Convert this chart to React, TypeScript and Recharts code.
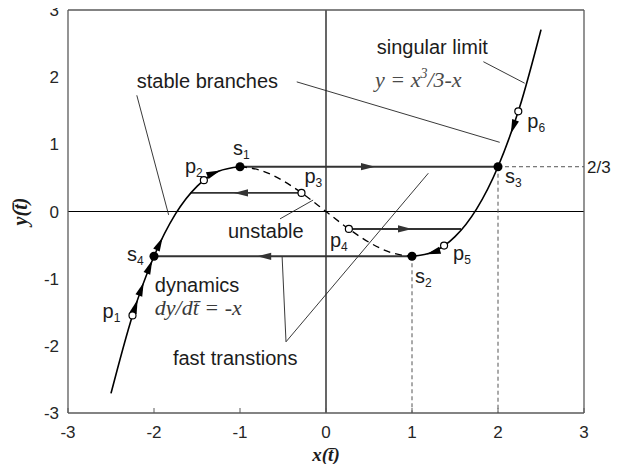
import { ComposedChart, Line, Scatter, XAxis, YAxis, ReferenceLine } from 'recharts';

const W = 624;
const H = 472;
// plot box is 516 x 403 px for 6 units each way
const KX = 516 / 6;
const KY = 403 / 6;

const ticks = [-3, -2, -1, 0, 1, 2, 3];

// singular limit y = x^3/3 - x, sampled every 0.25
const curveX = [-2.5, -2.25, -2, -1.75, -1.5, -1.25, -1, -0.75, -0.5, -0.25, 0, 0.25, 0.5, 0.75, 1, 1.25, 1.5, 1.75, 2, 2.25, 2.5];
const curveY = [-2.708, -1.547, -0.667, -0.036, 0.375, 0.599, 0.667, 0.609, 0.458, 0.245, 0, -0.245, -0.458, -0.609, -0.667, -0.599, -0.375, 0.036, 0.667, 1.547, 2.708];

// switching points s1..s4
const switchNames = ['s1', 's2', 's3', 's4'];
const switchX = [-1, 1, 2, -2];
const switchY = [2 / 3, -2 / 3, 2 / 3, -2 / 3];

// sample initial points p1..p6
const sampleNames = ['p1', 'p2', 'p3', 'p4', 'p5', 'p6'];
const sampleX = [-2.25, -1.42, -0.285, 0.266, 1.373, 2.236];
const sampleY = [-1.547, 0.466, 0.277, -0.26, -0.508, 1.491];

// fast horizontal jumps
const jumpY = [2 / 3, 0.277, -0.26, -2 / 3];
const jumpFromX = [-1, -0.285, 0.266, 1];
const jumpToX = [2, -1.575, 1.57, -2];

// arrowheads: tip position, heading along x (+1/-1) and local slope dy/dx
const arrowX = [-2.19, -2.12, -2.02, -1.9, -1.23, 2.15, 1.17, 0.57, -1.07, 1.0, -0.8];
const arrowY = [-1.311, -1.056, -0.727, -0.386, 0.61, 1.163, -0.636, 2 / 3, 0.277, -0.26, -2 / 3];
const arrowHeading = [1, 1, 1, 1, 1, -1, -1, 1, -1, 1, -1];
const arrowSlope = [3.8, 3.49, 3.08, 2.61, 0.51, 3.62, 0.37, 0, 0, 0, 0];

// annotation leader lines [x1, y1, x2, y2]
const leaders = [
  [-2.2, 1.73, -1.83, -0.05],
  [-0.34, 1.93, 2.02, 1.03],
  [1.83, 2.23, 2.31, 1.91],
  [-0.535, -0.11, -0.15, 0.17],
  [-0.51, -0.677, -0.465, -1.94],
  [-0.465, -1.94, 1.19, 0.57],
];

// annotation text anchors (left edge, baseline)
const noteIds = ['stable', 'singular', 'formula', 'unstable', 'dynamics', 'ode', 'fast'];
const noteX = [-2.2, 0.59, 0.57, -1.14, -1.99, -1.99, -1.78];
const noteY = [1.84, 2.34, 1.85, -0.395, -1.2, -1.54, -2.285];
const noteText = ['stable branches', 'singular limit', '', 'unstable', 'dynamics', '', 'fast transtions'];

const curve = curveX.map((x, i) => ({ x, y: curveY[i] }));
const stableLeft = curve.filter((d) => d.x <= -1);
const unstableMid = curve.filter((d) => d.x >= -1 && d.x <= 1);
const stableRight = curve.filter((d) => d.x >= 1);
const switches = switchNames.map((name, i) => ({ name, x: switchX[i], y: switchY[i] }));
const samples = sampleNames.map((name, i) => ({ name, x: sampleX[i], y: sampleY[i] }));
const jumps = jumpY.map((y, i) => [{ x: jumpFromX[i], y }, { x: jumpToX[i], y }]);
const arrows = arrowX.map((x, i) => ({ x, y: arrowY[i], heading: arrowHeading[i], slope: arrowSlope[i] }));
const notes = noteIds.map((id, i) => ({ id, x: noteX[i], y: noteY[i], text: noteText[i] }));

const SANS = '"Liberation Sans", Arial, sans-serif';
const SERIF = '"Liberation Serif", "Times New Roman", serif';
const INK = '#1c1c1c';
const BOX = '#5a5a5a';

const LABEL_OFFSET: Record<string, [number, number]> = {
  s1: [-7, -12],
  s2: [3, 27],
  s3: [7, 16],
  s4: [-27, 5],
  p1: [-30, 3],
  p2: [-19, -7],
  p3: [3, -10],
  p4: [-19, 18],
  p5: [9, 14],
  p6: [9, 17],
};

function PointLabel({ cx, cy, name }: { cx: number; cy: number; name: string }) {
  const [dx, dy] = LABEL_OFFSET[name];
  return (
    <text x={cx + dx} y={cy + dy} fontFamily={SANS} fontSize={20} fill={INK}>
      {name[0]}
      <tspan fontSize={12} dy={4}>{name.slice(1)}</tspan>
    </text>
  );
}

function SwitchDot(props: any) {
  const { cx, cy, payload } = props;
  return (
    <g>
      <circle cx={cx} cy={cy} r={4.5} fill="#000" />
      <PointLabel cx={cx} cy={cy} name={payload.name} />
    </g>
  );
}

function SampleDot(props: any) {
  const { cx, cy, payload } = props;
  return (
    <g>
      <circle cx={cx} cy={cy} r={3.5} fill="#fff" stroke="#000" strokeWidth={1.2} />
      <PointLabel cx={cx} cy={cy} name={payload.name} />
    </g>
  );
}

function ArrowHead(props: any) {
  const { cx, cy, payload } = props;
  const angle = (Math.atan2(-payload.heading * payload.slope * KY, payload.heading * KX) * 180) / Math.PI;
  return (
    <polygon
      points="0,0 -14,-3.6 -14,3.6"
      transform={`translate(${cx},${cy}) rotate(${angle})`}
      fill={payload.slope === 0 ? '#333' : '#000'}
    />
  );
}

function Note(props: any) {
  const { cx, cy, payload } = props;
  if (payload.id === 'formula') {
    return (
      <text x={cx} y={cy} fontFamily={SERIF} fontStyle="italic" fontSize={22} fill="#4a4a4a">
        y = x<tspan fontSize={14} dy={-9}>3</tspan>
        <tspan dy={9}>/3-x</tspan>
      </text>
    );
  }
  if (payload.id === 'ode') {
    return (
      <text x={cx} y={cy} fontFamily={SERIF} fontStyle="italic" fontSize={22} fill="#3a3a3a">
        dy/dt{'\u0304'} = -x
      </text>
    );
  }
  return (
    <text x={cx} y={cy} fontFamily={SANS} fontSize={20} fill={INK}>
      {payload.text}
    </text>
  );
}

function XTitle(props: any) {
  const vb = props.viewBox ?? { x: 68, y: 413, width: 516, height: 59 };
  return (
    <text x={vb.x + vb.width / 2} y={vb.y + 48} textAnchor="middle" fontFamily={SERIF} fontStyle="italic" fontWeight="bold" fontSize={19} fill={INK}>
      x(t{'\u0304'})
    </text>
  );
}

function YTitle(props: any) {
  const vb = props.viewBox ?? { x: 0, y: 10, width: 68, height: 403 };
  const x = vb.x + 27;
  const y = vb.y + vb.height / 2;
  return (
    <text x={x} y={y} transform={`rotate(-90, ${x}, ${y})`} textAnchor="middle" fontFamily={SERIF} fontStyle="italic" fontWeight="bold" fontSize={20} fill={INK}>
      y(t{'\u0304'})
    </text>
  );
}

export default function App() {
  return (
    <div style={{ margin: -8, width: W, height: H, background: '#fff' }}>
      <ComposedChart width={W} height={H} margin={{ top: 0, right: 0, bottom: 0, left: 0 }} style={{ fontFamily: SANS }}>
        <XAxis
          type="number"
          dataKey="x"
          domain={[-3, 3]}
          ticks={ticks}
          allowDataOverflow
          height={59}
          tickSize={-5}
          tickMargin={18}
          axisLine={{ stroke: BOX, strokeWidth: 1.3 }}
          tickLine={{ stroke: BOX }}
          tick={{ fill: '#262626', fontSize: 17, fontFamily: SANS }}
          label={XTitle}
        />
        <XAxis
          xAxisId="top"
          orientation="top"
          type="number"
          dataKey="x"
          domain={[-3, 3]}
          ticks={ticks}
          allowDataOverflow
          height={10}
          tickSize={-5}
          tick={false}
          axisLine={{ stroke: BOX, strokeWidth: 1.3 }}
          tickLine={{ stroke: BOX }}
        />
        <YAxis
          type="number"
          domain={[-3, 3]}
          ticks={ticks}
          allowDataOverflow
          width={68}
          tickSize={0}
          tickMargin={9}
          tickLine={false}
          axisLine={{ stroke: BOX, strokeWidth: 1.3 }}
          tick={{ fill: '#262626', fontSize: 17, fontFamily: SANS }}
          label={YTitle}
        />
        <YAxis
          yAxisId="right"
          orientation="right"
          type="number"
          domain={[-3, 3]}
          ticks={ticks}
          allowDataOverflow
          width={40}
          tickSize={-5}
          tick={false}
          axisLine={{ stroke: BOX, strokeWidth: 1.3 }}
          tickLine={{ stroke: BOX }}
        />

        <ReferenceLine x={0} stroke="#000" strokeWidth={1.2} />
        <ReferenceLine y={0} stroke="#000" strokeWidth={1.2} />

        {/* dashed guides to s2, s3 and the 2/3 level */}
        <ReferenceLine segment={[{ x: 1, y: -2 / 3 }, { x: 1, y: -3 }]} stroke="#555" strokeDasharray="4 3" />
        <ReferenceLine segment={[{ x: 2, y: 2 / 3 }, { x: 2, y: -3 }]} stroke="#555" strokeDasharray="4 3" />
        <ReferenceLine
          segment={[{ x: 2, y: 2 / 3 }, { x: 3, y: 2 / 3 }]}
          stroke="#555"
          strokeDasharray="4 3"
          label={{ value: '2/3', position: 'right', offset: 3, fill: INK, fontSize: 17, fontFamily: SANS }}
        />

        {leaders.map(([x1, y1, x2, y2], i) => (
          <ReferenceLine key={`lead-${i}`} segment={[{ x: x1, y: y1 }, { x: x2, y: y2 }]} stroke="#222" strokeWidth={0.9} />
        ))}

        {jumps.map((seg, i) => (
          <Line key={`jump-${i}`} data={seg} dataKey="y" type="linear" stroke="#333" strokeWidth={1.9} dot={false} activeDot={false} isAnimationActive={false} />
        ))}

        <Line data={stableLeft} dataKey="y" type="monotone" stroke="#000" strokeWidth={1.6} dot={false} activeDot={false} isAnimationActive={false} />
        <Line data={unstableMid} dataKey="y" type="monotone" stroke="#000" strokeWidth={1.3} strokeDasharray="7 5" dot={false} activeDot={false} isAnimationActive={false} />
        <Line data={stableRight} dataKey="y" type="monotone" stroke="#000" strokeWidth={1.6} dot={false} activeDot={false} isAnimationActive={false} />

        <Scatter data={arrows} dataKey="y" shape={ArrowHead} isAnimationActive={false} />
        <Scatter data={samples} dataKey="y" shape={SampleDot} isAnimationActive={false} />
        <Scatter data={switches} dataKey="y" shape={SwitchDot} isAnimationActive={false} />
        <Scatter data={notes} dataKey="y" shape={Note} isAnimationActive={false} />
      </ComposedChart>
    </div>
  );
}
